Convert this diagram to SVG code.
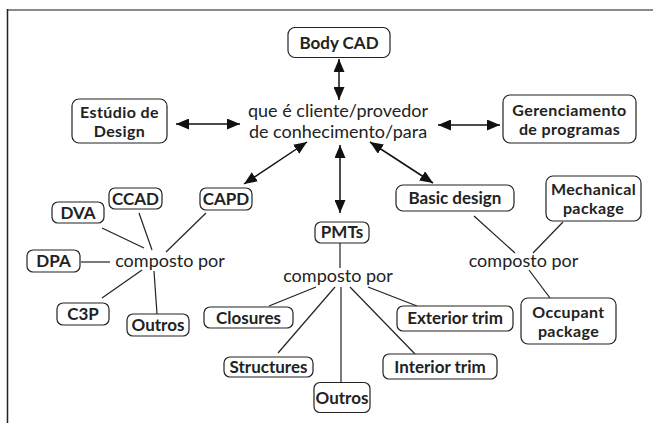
<svg xmlns="http://www.w3.org/2000/svg" width="653" height="423" viewBox="0 0 653 423">
<style>
.box{fill:#fff;stroke:#222;stroke-width:1.2}
.lb{font-family:Lato,"Liberation Sans",sans-serif;font-weight:bold;font-size:17px;fill:#222;text-anchor:middle}
.lb2{font-family:Lato,"Liberation Sans",sans-serif;font-weight:bold;font-size:16px;letter-spacing:0.4px;fill:#222;text-anchor:middle}
.rg{font-family:Lato,"Liberation Sans",sans-serif;font-size:18px;fill:#222;text-anchor:middle}
.ln{stroke:#222;stroke-width:1.2;fill:none}
.ar{stroke:#111;stroke-width:1.5;fill:none;marker-start:url(#ah);marker-end:url(#ah)}
</style>
<defs>
<marker id="ah" markerUnits="userSpaceOnUse" markerWidth="14" markerHeight="11" refX="13" refY="5.5" orient="auto-start-reverse">
<path d="M0,0 L13,5.5 L0,11 z" fill="#111"/>
</marker>
</defs>
<rect width="653" height="423" fill="#fff"/>
<g id="frame">
<line x1="7" y1="10" x2="653" y2="10" stroke="#8a8a8a" stroke-width="2"/>
<line x1="7.5" y1="9" x2="7.5" y2="423" stroke="#222" stroke-width="1.5"/>
</g>
<g id="connectors">
<line class="ar" x1="339" y1="59" x2="339" y2="100"/>
<line class="ar" x1="176" y1="124" x2="240" y2="124"/>
<line class="ar" x1="438" y1="125" x2="500" y2="125"/>
<line class="ar" x1="307" y1="142" x2="244" y2="184"/>
<line class="ar" x1="340" y1="145" x2="340" y2="213"/>
<line class="ar" x1="370" y1="142" x2="433" y2="183"/>
<line class="ln" x1="102" y1="228" x2="144" y2="248"/>
<line class="ln" x1="139" y1="213" x2="152" y2="250"/>
<line class="ln" x1="206" y1="213" x2="166" y2="252"/>
<line class="ln" x1="81" y1="262" x2="110" y2="262"/>
<line class="ln" x1="102" y1="298" x2="142" y2="270"/>
<line class="ln" x1="154" y1="271" x2="157" y2="314"/>
<line class="ln" x1="340" y1="243" x2="340" y2="268"/>
<line class="ln" x1="269" y1="306" x2="316" y2="287"/>
<line class="ln" x1="278" y1="353" x2="335" y2="287"/>
<line class="ln" x1="341" y1="287" x2="341" y2="382"/>
<line class="ln" x1="350" y1="287" x2="415" y2="354"/>
<line class="ln" x1="368" y1="287" x2="417" y2="306"/>
<line class="ln" x1="474" y1="216" x2="515" y2="253"/>
<line class="ln" x1="563" y1="222" x2="533" y2="253"/>
<line class="ln" x1="529" y1="270" x2="550" y2="298"/>
</g>
<g id="body-cad"><rect class="box" x="288" y="27.5" width="102" height="30" rx="7"/><text class="lb" x="339" y="48.5">Body CAD</text></g>
<g id="estudio"><rect class="box" x="72" y="99" width="95" height="44" rx="7"/><text class="lb2" x="119.5" y="118">Estúdio de</text><text class="lb2" x="119.5" y="137">Design</text></g>
<g id="center"><text class="rg" x="338" y="117">que é cliente/provedor</text><text class="rg" x="338" y="138">de conhecimento/para</text></g>
<g id="gerenciamento"><rect class="box" x="503" y="95" width="133" height="48" rx="7"/><text class="lb2" x="569.5" y="116">Gerenciamento</text><text class="lb2" x="569.5" y="135">de programas</text></g>
<g id="capd"><rect class="box" x="200" y="188" width="52" height="22" rx="6"/><text class="lb" x="226" y="205">CAPD</text></g>
<g id="ccad"><rect class="box" x="109" y="188" width="53" height="21" rx="6"/><text class="lb" x="135.5" y="205">CCAD</text></g>
<g id="dva"><rect class="box" x="52" y="202" width="52" height="21" rx="6"/><text class="lb" x="78" y="219">DVA</text></g>
<g id="dpa"><rect class="box" x="27" y="250" width="53" height="22" rx="6"/><text class="lb" x="53.5" y="267">DPA</text></g>
<g id="c3p"><rect class="box" x="57" y="303" width="52" height="22" rx="6"/><text class="lb" x="83" y="320">C3P</text></g>
<g id="outros-left"><rect class="box" x="127" y="314" width="62" height="22" rx="6"/><text class="lb" x="158" y="331">Outros</text></g>
<g id="composto-left"><text class="rg" x="170" y="267">composto por</text></g>
<g id="pmts"><rect class="box" x="315" y="222" width="54" height="21" rx="6"/><text class="lb" x="342" y="238">PMTs</text></g>
<g id="composto-mid"><text class="rg" x="338" y="282">composto por</text></g>
<g id="closures"><rect class="box" x="204" y="307" width="89" height="21" rx="6"/><text class="lb" x="248.5" y="324">Closures</text></g>
<g id="structures"><rect class="box" x="224" y="357" width="89" height="20" rx="6"/><text class="lb" x="268.5" y="373">Structures</text></g>
<g id="outros-mid"><rect class="box" x="314" y="382.5" width="56" height="30" rx="6"/><text class="lb" x="342" y="404">Outros</text></g>
<g id="exterior-trim"><rect class="box" x="397" y="306" width="116" height="25" rx="6"/><text class="lb" x="455" y="324">Exterior trim</text></g>
<g id="interior-trim"><rect class="box" x="383" y="354" width="114" height="25" rx="6"/><text class="lb" x="440" y="373">Interior trim</text></g>
<g id="basic-design"><rect class="box" x="396" y="185" width="118" height="26" rx="7"/><text class="lb" x="455" y="204">Basic design</text></g>
<g id="composto-right"><text class="rg" x="523.5" y="267">composto por</text></g>
<g id="mechanical"><rect class="box" x="546" y="176" width="95" height="45" rx="7"/><text class="lb2" x="593.5" y="195">Mechanical</text><text class="lb2" x="593.5" y="214">package</text></g>
<g id="occupant"><rect class="box" x="521" y="298" width="95" height="46" rx="7"/><text class="lb2" x="568.5" y="318">Occupant</text><text class="lb2" x="568.5" y="337">package</text></g>
</svg>
